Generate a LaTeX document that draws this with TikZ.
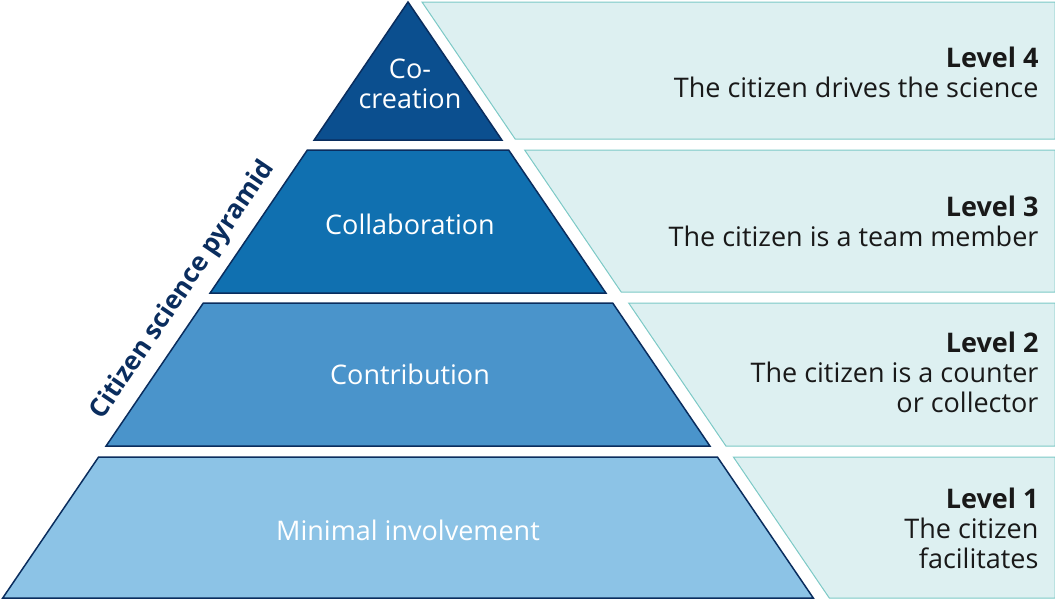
\documentclass[tikz,border=0pt]{standalone}
\usepackage{fontspec}
\setmainfont{Open Sans}
\definecolor{tfour}{HTML}{0B4F8F}
\definecolor{tthree}{HTML}{1070B0}
\definecolor{ttwo}{HTML}{4A94CB}
\definecolor{tone}{HTML}{8CC3E6}
\definecolor{navy}{HTML}{0A2D5E}
\definecolor{panel}{HTML}{DDF0F1}
\definecolor{teal}{HTML}{7CC9C6}
\begin{document}
\begin{tikzpicture}[x=1pt,y=-1pt,
  tier/.style={draw=navy,line width=1.5pt,line join=miter},
  pan/.style={fill=panel,draw=teal,line width=1pt},
  tlab/.style={text=white,font=\fontsize{27}{30}\selectfont,align=center},
  plab/.style={anchor=east,align=right,text=black!90,font=\fontsize{27}{30}\selectfont}]
\useasboundingbox (0,0) rectangle (1055,600);
\path[tier,fill=tfour] (408,2) -- ({408+0.68*138},140) -- ({408-0.68*138},140) -- cycle;
\path[tier,fill=tthree] ({408-0.68*148},150) -- ({408+0.68*148},150) -- ({408+0.68*291},293) -- ({408-0.68*291},293) -- cycle;
\path[tier,fill=ttwo] ({408-0.68*301},303) -- ({408+0.68*301},303) -- ({408+0.68*444},446) -- ({408-0.68*444},446) -- cycle;
\path[tier,fill=tone] ({408-0.68*455},457) -- ({408+0.68*455},457) -- ({408+0.68*596},598) -- ({408-0.68*596},598) -- cycle;
\path[pan] (422,2) -- (1055,2) -- (1055,139) -- ({422+0.68*137},139) -- cycle;
\path[pan] ({424+0.68*148},150) -- (1055,150) -- (1055,292) -- ({424+0.68*290},292) -- cycle;
\path[pan] ({424+0.68*301},303) -- (1055,303) -- (1055,446) -- ({424+0.68*444},446) -- cycle;
\path[pan] ({424+0.68*455},457) -- (1055,457) -- (1055,598) -- ({424+0.68*596},598) -- cycle;
\node[tlab] (l4) at (410,84) {Co-\\creation};
\node[tlab] (l3) at (410,224) {Collaboration};
\node[tlab] (l2) at (410,374) {Contribution};
\node[tlab] (l1) at (408,530) {Minimal involvement};
\node[plab] (p4) at (1042,72) {\textbf{Level 4}\\The citizen drives the science};
\node[plab] (p3) at (1042,221) {\textbf{Level 3}\\The citizen is a team member};
\node[plab] (p2) at (1042,372) {\textbf{Level 2}\\The citizen is a counter\\or collector};
\node[plab] (p1) at (1042,528) {\textbf{Level 1}\\The citizen\\facilitates};
\node[rotate=55.8,text=navy,font=\bfseries\fontsize{26}{28}\selectfont] (side) at (183,290) {Citizen science pyramid};
\end{tikzpicture}
\end{document}
